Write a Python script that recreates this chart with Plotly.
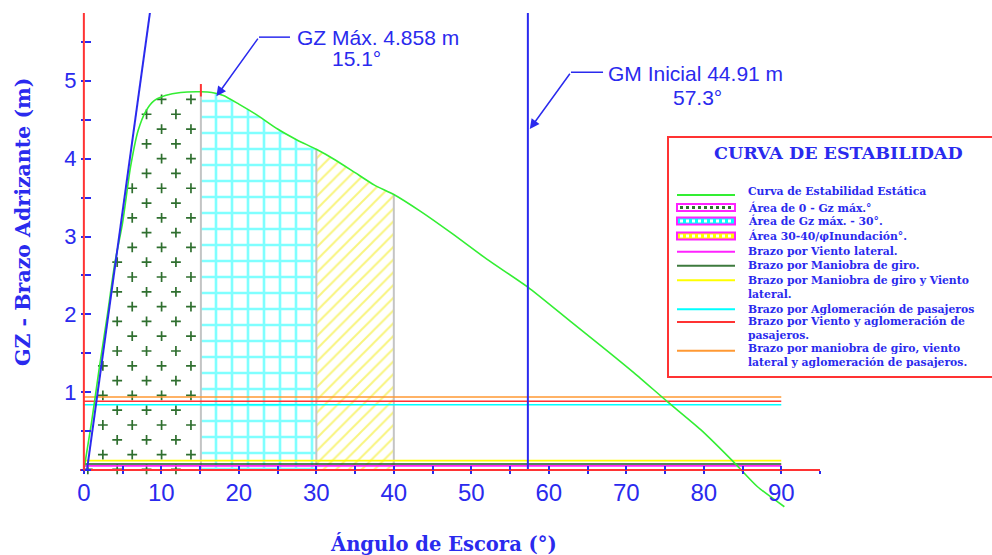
import numpy as np
import plotly.graph_objects as go

# ---------------- data ----------------
ANGLE = [0, 1, 2, 3, 4, 5, 6, 7, 8, 9, 10.5, 12.5, 15.1, 16.5, 18, 20, 22.5, 25, 27.5,
         30, 32.5, 35, 37.5, 40, 43.5, 47.5, 52, 57.3, 62.8, 66.7, 71, 75.3, 79.6,
         83.9, 86.9, 90.4]
GZ = [0, 0.62, 1.32, 1.97, 2.66, 3.18, 3.88, 4.36, 4.61, 4.74, 4.81, 4.85, 4.858, 4.85,
      4.81, 4.70, 4.55, 4.38, 4.24, 4.12, 3.98, 3.82, 3.66, 3.54, 3.32, 3.04, 2.71,
      2.35, 1.91, 1.60, 1.25, 0.88, 0.52, 0.10, -0.21, -0.47]

GZ_MAX = 4.858
GZ_MAX_ANGLE = 15.1
GM_INICIAL = 44.91
GM_ANGLE = 57.3
AREA_LIMITS = [0, 15.1, 30, 40]

TANGENT_X = [0.4, 8.7]
TANGENT_Y = [0.0, 6.0]

HEEL_NAMES = ["Brazo por Viento lateral.",
              "Brazo por Maniobra de giro.",
              "Brazo por Maniobra de giro y Viento lateral.",
              "Brazo por Aglomeración de pasajeros",
              "Brazo por Viento y aglomeración de pasajeros.",
              "Brazo por maniobra de giro, viento lateral y aglomeración de pasajeros."]
HEEL_VALUES = [0.055, 0.08, 0.122, 0.84, 0.885, 0.94]
HEEL_RANGE = [0, 90]

X_TICKS = list(range(0, 100, 5))
X_TICK_TEXT = [str(v) if v % 10 == 0 and v <= 90 else "" for v in X_TICKS]
Y_TICKS = [i * 0.5 for i in range(12)]
Y_TICK_TEXT = [str(int(v)) if v == int(v) and v > 0 else "" for v in Y_TICKS]

# ---------------- styles / layout ----------------
W, H = 992, 555
L, R, T, B = 80, 172, 13, 42
PW, PH = W - L - R, H - T - B
XR = [-0.5, 95]
YR = [-0.55, 5.87]

BLUE = "#2a2aee"
RED = "#ff3333"
GREEN = "#33ee33"
DKGREEN = "#2f6f2f"
CYAN = "#00ffff"
YELLOW = "#ffff00"
MAGENTA = "#ff22ff"
ORANGE = "#ff9933"
GRAY = "#c4c4c4"
HEEL_COLORS = [MAGENTA, "#1f5a1f", YELLOW, CYAN, RED, ORANGE]
SERIF = "DejaVu Serif"
SANS = "Liberation Sans, Arial"


def px(xp):
    return (xp - L) / PW


def py(yp):
    return (H - B - yp) / PH


def gz_at(x):
    return float(np.interp(x, ANGLE, GZ))


fig = go.Figure()

# ---- area 0 - GZ max : plus-sign hatch
hx, hy = [], []
for k in range(32):
    yv = 0.01 + k * 0.19
    start = 2.45 if k % 2 else 0.51
    for xv in np.arange(start, AREA_LIMITS[1], 3.79):
        if yv <= gz_at(xv):
            hx.append(xv)
            hy.append(yv)
fig.add_trace(go.Scatter(x=hx, y=hy, mode="markers",
                         marker=dict(symbol="cross-thin", size=7,
                                     line=dict(color=DKGREEN, width=1.7)),
                         hoverinfo="skip"))


def area_polygon(a0, a1):
    xs = [a0] + [a for a in ANGLE if a0 < a < a1] + [a1]
    ys = [gz_at(a) for a in xs]
    return xs + [a1, a0, a0], ys + [0, 0, ys[0]]


# ---- area GZ max - 30 : cyan grid
ax2, ay2 = area_polygon(AREA_LIMITS[1], AREA_LIMITS[2])
fig.add_trace(go.Scatter(x=ax2, y=ay2, mode="none", fill="toself", fillcolor="white",
                         fillpattern=dict(shape="+", fgcolor=CYAN, bgcolor="white",
                                          size=16, solidity=0.3),
                         hoverinfo="skip"))
# ---- area 30 - 40 : yellow diagonal hatch
ax3, ay3 = area_polygon(AREA_LIMITS[2], AREA_LIMITS[3])
fig.add_trace(go.Scatter(x=ax3, y=ay3, mode="none", fill="toself", fillcolor="white",
                         fillpattern=dict(shape="/", fgcolor="#f2ea00", bgcolor="white",
                                          size=9, solidity=0.22),
                         hoverinfo="skip"))

# gray boundaries
for a in AREA_LIMITS[1:]:
    fig.add_trace(go.Scatter(x=[a, a], y=[0, gz_at(a)], mode="lines",
                             line=dict(color=GRAY, width=2), hoverinfo="skip"))

# heeling arm lines
for val, col in zip(HEEL_VALUES, HEEL_COLORS):
    fig.add_trace(go.Scatter(x=HEEL_RANGE, y=[val, val], mode="lines",
                             line=dict(color=col, width=1.6), hoverinfo="skip"))

# GZ curve
fig.add_trace(go.Scatter(x=ANGLE, y=GZ, mode="lines", line_shape="spline",
                         line=dict(color=GREEN, width=1.6, smoothing=0.6), hoverinfo="skip"))

# tangent (initial GM)
fig.add_trace(go.Scatter(x=TANGENT_X, y=TANGENT_Y, mode="lines",
                         line=dict(color=BLUE, width=2), hoverinfo="skip"))

# vertical GM line at 57.3
fig.add_trace(go.Scatter(x=[GM_ANGLE, GM_ANGLE], y=[0, YR[1]], mode="lines",
                         line=dict(color=BLUE, width=2), hoverinfo="skip"))

# red mark at GZ max
fig.add_trace(go.Scatter(x=[GZ_MAX_ANGLE, GZ_MAX_ANGLE], y=[GZ_MAX - 0.06, GZ_MAX + 0.1],
                         mode="lines", line=dict(color=RED, width=2), hoverinfo="skip"))

# dummy trace for the overlay axes (crossing ticks)
fig.add_trace(go.Scatter(x=[0], y=[0], xaxis="x2", yaxis="y2", mode="markers",
                         marker=dict(opacity=0), hoverinfo="skip"))

shapes = []
annotations = []

# y axis red line
shapes.append(dict(type="line", xref="x", yref="y", x0=0, x1=0, y0=0, y1=YR[1],
                   line=dict(color=RED, width=2), layer="above"))


def text_ann(xp, yp, text, size, family=SANS, xanchor="left", angle=0):
    return dict(x=px(xp), y=py(yp), xref="paper", yref="paper", xanchor=xanchor,
                yanchor="middle", showarrow=False, text=text, textangle=angle,
                align="left", font=dict(family=family, size=size, color=BLUE))


# ---- GZ max annotation (bent leader)
gz_tail = (22.6, 5.56)
annotations.append(dict(x=17.1, y=4.80, ax=gz_tail[0], ay=gz_tail[1], xref="x", yref="y",
                        axref="x", ayref="y", text="", showarrow=True, arrowhead=2,
                        arrowsize=1.3, arrowwidth=1.5, arrowcolor=BLUE))
shapes.append(dict(type="line", xref="x", yref="y", x0=gz_tail[0], x1=26.6,
                   y0=gz_tail[1], y1=gz_tail[1], line=dict(color=BLUE, width=1.5)))
annotations.append(text_ann(295, 37, f"GZ Máx. {GZ_MAX:.3f} m", 21))
annotations.append(text_ann(356, 59, f"{GZ_MAX_ANGLE}°", 21, xanchor="center"))

# ---- GM annotation
gm_tail = (62.86, 5.11)
annotations.append(dict(x=57.55, y=4.38, ax=gm_tail[0], ay=gm_tail[1], xref="x", yref="y",
                        axref="x", ayref="y", text="", showarrow=True, arrowhead=2,
                        arrowsize=1.3, arrowwidth=1.5, arrowcolor=BLUE))
shapes.append(dict(type="line", xref="x", yref="y", x0=gm_tail[0], x1=67.0,
                   y0=gm_tail[1], y1=gm_tail[1], line=dict(color=BLUE, width=1.5)))
annotations.append(text_ann(606, 73, f"GM Inicial {GM_INICIAL} m", 21))
annotations.append(text_ann(697, 97, f"{GM_ANGLE}°", 21, xanchor="center"))

# ---- axis titles
annotations.append(text_ann(443, 544, "<b>Ángulo de Escora (°)</b>", 19.5, SERIF, "center"))
annotations.append(text_ann(23, 222, "<b>GZ - Brazo Adrizante (m)</b>", 20.5, SERIF,
                            "center", -90))

# ---- legend box
shapes.append(dict(type="rect", xref="paper", yref="paper", x0=px(668), x1=px(1005),
                   y0=py(377), y1=py(137), line=dict(color=RED, width=2),
                   fillcolor="white", layer="above"))
annotations.append(text_ann(838, 153, "<b>CURVA DE ESTABILIDAD</b>", 17.5, SERIF, "center"))

SX0, SX1, TX = 677, 735, 746
legend_items = [
    ("line", GREEN, 195, "Curva de Estabilidad Estática", 191),
    ("box", DKGREEN, "white", 207.5, "Área de 0 - Gz máx.°", 207.7),
    ("box", "white", CYAN, 221, "Área de Gz máx. - 30°.", 221),
    ("box", "white", YELLOW, 236, "Área 30-40/φInundación°.", 236),
    ("line", MAGENTA, 251.7, "Brazo por Viento lateral.", 251),
    ("line", "#3d7a3d", 265.7, "Brazo por Maniobra de giro.", 265.7),
    ("line", YELLOW, 280.3, "Brazo por Maniobra de giro y Viento<br>lateral.", 287),
    ("line", CYAN, 309.3, "Brazo por Aglomeración de pasajeros", 309),
    ("line", RED, 322, "Brazo por Viento y aglomeración de<br>pasajeros.", 328.5),
    ("line", ORANGE, 350.7, "Brazo por maniobra de giro, viento<br>lateral y aglomeración de pasajeros.", 355.5),
]
for item in legend_items:
    if item[0] == "line":
        _, col, ys, text, ty = item
        shapes.append(dict(type="line", xref="paper", yref="paper", x0=px(SX0), x1=px(SX1),
                           y0=py(ys), y1=py(ys), line=dict(color=col, width=2),
                           layer="above"))
    else:
        _, dotc, fillc, ys, text, ty = item
        shapes.append(dict(type="rect", xref="paper", yref="paper", x0=px(SX0), x1=px(SX1),
                           y0=py(ys + 3.5), y1=py(ys - 3.5),
                           line=dict(color=MAGENTA, width=2), fillcolor=fillc,
                           layer="above"))
        shapes.append(dict(type="line", xref="paper", yref="paper", x0=px(SX0 + 3),
                           x1=px(SX1 - 3), y0=py(ys), y1=py(ys),
                           line=dict(color=dotc, width=3, dash="dot"), layer="above"))
    annotations.append(text_ann(TX, ty, f"<b>{text}</b>", 10.8, SERIF))

x_pos = (0 - YR[0]) / (YR[1] - YR[0])
y_pos = (0 - XR[0]) / (XR[1] - XR[0])

common_x = dict(range=XR, tickmode="array", tickvals=X_TICKS, showgrid=False,
                zeroline=False, tickcolor=BLUE, tickwidth=1.5)
common_y = dict(range=YR, tickmode="array", tickvals=Y_TICKS, showgrid=False,
                zeroline=False, tickcolor=BLUE, tickwidth=1.5)

fig.update_layout(
    width=W, height=H, margin=dict(l=L, r=R, t=T, b=B, pad=0),
    plot_bgcolor="white", paper_bgcolor="white", showlegend=False,
    xaxis=dict(**common_x, ticktext=X_TICK_TEXT, anchor="free", position=x_pos,
               ticks="outside", ticklen=3, showline=True, linecolor=RED, linewidth=2,
               ticklabelstandoff=-2,
               tickfont=dict(family=SANS, size=24, color=BLUE)),
    yaxis=dict(**common_y, ticktext=Y_TICK_TEXT, anchor="free", position=y_pos,
               ticks="outside", ticklen=3, showline=False,
               tickfont=dict(family=SANS, size=22, color=BLUE)),
    xaxis2=dict(**common_x, overlaying="x", anchor="free", position=x_pos,
                ticks="inside", ticklen=4, showticklabels=False, showline=False),
    yaxis2=dict(**common_y, overlaying="y", anchor="free", position=y_pos,
                ticks="inside", ticklen=6, showticklabels=False, showline=False),
    shapes=shapes, annotations=annotations,
)

fig.write_html("out.html")
